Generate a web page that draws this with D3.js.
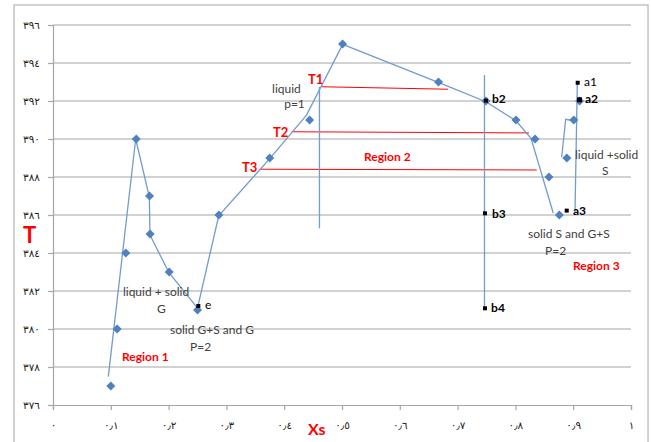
<!DOCTYPE html>
<html>
<head>
<meta charset="utf-8">
<script src="https://cdn.jsdelivr.net/npm/d3@7"></script>
<style>
  html, body { margin: 0; padding: 0; background: #fff; }
  svg { display: block; }
</style>
</head>
<body>
<svg id="chart" width="651" height="442"></svg>
<script>
// Axis ticks and their Persian labels
const yTicks = [376, 378, 380, 382, 384, 386, 388, 390, 392, 394, 396];
const yTickLabels = ["٣٧٦", "٣٧٨", "٣٨٠", "٣٨٢", "٣٨٤", "٣٨٦", "٣٨٨", "٣٩٠", "٣٩٢", "٣٩٤", "٣٩٦"];
const xTicks = [0, 0.1, 0.2, 0.3, 0.4, 0.5, 0.6, 0.7, 0.8, 0.9, 1];
const xTickLabels = ["٠", "٠٫١", "٠٫٢", "٠٫٣", "٠٫٤", "٠٫٥", "٠٫٦", "٠٫٧", "٠٫٨", "٠٫٩", "١"];

// Measured points (composition Xs, temperature T)
const pointXs = [0.100, 0.111, 0.126, 0.144, 0.167, 0.168, 0.201, 0.250, 0.287, 0.375, 0.444,
                 0.501, 0.667, 0.749, 0.801, 0.834, 0.858, 0.876, 0.889, 0.901, 0.911];
const pointT  = [377, 380, 384, 390, 387, 385, 383, 381, 386, 389, 391,
                 395, 393, 392, 391, 390, 388, 386, 389, 391, 392];

// Phase boundary curve traced through the points
const curveXs = [0.0957, 0.1431, 0.1666, 0.1678, 0.2007, 0.2500, 0.2867, 0.3754, 0.4386,
                 0.5012, 0.6666, 0.7491, 0.8010, 0.8270, 0.8656];
const curveT  = [377.49, 390.00, 386.96, 384.95, 382.96, 381.10, 385.96, 388.98, 391.26,
                 394.98, 392.98, 391.96, 390.96, 390.04, 386.09];
// Short boundary branch on the right
const branchXs = [0.8801, 0.8870, 0.9002];
const branchT  = [389.04, 391.04, 390.96];

// Vertical isopleths: [x0, T0, x1, T1]
const isoplethT1 = [0.461, 392.75, 0.461, 385.30];
const isoplethB  = [0.7465, 393.37, 0.7465, 381.09];
const isoplethA  = [0.9031, 386.10, 0.9071, 392.95];

// Tie lines at T1, T2, T3: [x0, T0, x1, T1]
const tieNames = ["T1", "T2", "T3"];
const tieLines = [
  [0.4649, 392.75, 0.6839, 392.62],
  [0.4130, 390.38, 0.8235, 390.32],
  [0.3581, 388.41, 0.8369, 388.37]
];
const tieLabelXs = [0.4412, 0.3806, 0.3270];
const tieLabelT  = [392.89, 390.11, 388.26];

// Marked state points
const markNames = ["e", "b2", "b3", "b4", "a1", "a2", "a3"];
const markXs = [0.2514, 0.7491, 0.7474, 0.7474, 0.9078, 0.9100, 0.8888];
const markT  = [381.21, 392.02, 386.09, 381.09, 392.96, 392.09, 386.23];
const markLabelXs = [0.263, 0.7595, 0.7595, 0.758, 0.9187, 0.9204, 0.8997];
const markLabelT  = [381.05, 391.89, 385.84, 380.89, 392.79, 391.89, 386.00];
const markBold = [false, true, true, true, false, true, true];

// Phase descriptions
const noteTexts = ["liquid", "p=1", "liquid + solid", "G", "solid G+S and G", "P=2",
                   "liquid +solid", "S", "solid S and G+S", "P=2"];
const noteXs = [0.379, 0.400, 0.121, 0.180, 0.2024, 0.237, 0.9031, 0.9498, 0.8218, 0.8512];
const noteT  = [392.42, 391.61, 381.73, 380.84, 379.74, 378.84, 388.94, 388.11, 384.79, 383.89];

// Region names
const regionNames = ["Region 1", "Region 2", "Region 3"];
const regionXs = [0.1194, 0.538, 0.8997];
const regionT  = [378.31, 388.84, 383.11];

const svg = d3.select("#chart");
const plotLeft = 53, plotRight = 631, plotTop = 25, plotBottom = 405;

const x = d3.scaleLinear().domain([0, 1]).range([plotLeft, plotRight]);
const y = d3.scaleLinear().domain([376, 396]).range([plotBottom, plotTop]);

const labelFont = "Lato, 'Liberation Sans', sans-serif";
const digitFont = "'DejaVu Sans', sans-serif";
const blue = "#4f81bd", lineBlue = "#729bd0", red = "#ff0000", textGray = "#404040";

// Outer frame
svg.append("rect")
  .attr("x", 14).attr("y", 5).attr("width", 634).attr("height", 445)
  .attr("fill", "none").attr("stroke", "#c4c4c4").attr("stroke-width", 1.5);

// Horizontal gridlines
svg.append("g").selectAll("line").data(yTicks.slice(1)).join("line")
  .attr("x1", plotLeft).attr("x2", plotRight)
  .attr("y1", d => y(d)).attr("y2", d => y(d))
  .attr("stroke", "#a6a6a6").attr("stroke-width", 1.2);

// Y axis
const yAxis = svg.append("g").attr("transform", `translate(${plotLeft},0)`)
  .call(d3.axisLeft(y).tickValues(yTicks).tickSize(5).tickPadding(8)
        .tickFormat((d, i) => yTickLabels[i]));
yAxis.select(".domain").attr("stroke", "#a6a6a6").attr("stroke-width", 1.2);
yAxis.selectAll(".tick line").attr("stroke", "#a6a6a6").attr("stroke-width", 1.2);
yAxis.selectAll(".tick text").attr("font-family", digitFont).attr("font-size", 10.5)
  .attr("fill", "#222");

// X axis
const xAxis = svg.append("g").attr("transform", `translate(0,${plotBottom})`)
  .call(d3.axisBottom(x).tickValues(xTicks).tickSize(5).tickPadding(12)
        .tickFormat((d, i) => xTickLabels[i]));
xAxis.select(".domain").attr("stroke", "#a6a6a6").attr("stroke-width", 1.2);
xAxis.selectAll(".tick line").attr("stroke", "#a6a6a6").attr("stroke-width", 1.2);
xAxis.selectAll(".tick text").attr("font-family", digitFont).attr("font-size", 10.5)
  .attr("fill", "#222");

// Axis titles
svg.append("text").attr("x", 23).attr("y", 243)
  .attr("font-family", labelFont).attr("font-weight", "bold").attr("font-size", 22)
  .attr("fill", red).text("T");
svg.append("text").attr("x", 308).attr("y", 435)
  .attr("font-family", labelFont).attr("font-weight", "bold").attr("font-size", 16)
  .attr("fill", red).text("Xs");

const seg = s => `M${x(s[0])},${y(s[1])}L${x(s[2])},${y(s[3])}`;

// Tie lines
svg.append("g").selectAll("path").data(tieLines).join("path")
  .attr("d", seg).attr("stroke", red).attr("stroke-width", 1).attr("fill", "none");

// Boundary curves
const line = d3.line().x(d => x(d[0])).y(d => y(d[1]));
svg.append("path").datum(d3.zip(curveXs, curveT)).attr("d", line)
  .attr("fill", "none").attr("stroke", lineBlue).attr("stroke-width", 1.3);
svg.append("path").datum(d3.zip(branchXs, branchT)).attr("d", line)
  .attr("fill", "none").attr("stroke", lineBlue).attr("stroke-width", 1.3);

// Isopleths
svg.append("g").selectAll("path").data([isoplethT1, isoplethB, isoplethA]).join("path")
  .attr("d", seg).attr("stroke", lineBlue).attr("stroke-width", 1.3).attr("fill", "none");

// Diamond markers
const diamond = d3.symbol().type(d3.symbolDiamond2).size(52);
svg.append("g").selectAll("path").data(d3.zip(pointXs, pointT)).join("path")
  .attr("d", diamond)
  .attr("transform", d => `translate(${x(d[0])},${y(d[1])})`)
  .attr("fill", blue);

// State points
svg.append("g").selectAll("rect").data(d3.range(markNames.length)).join("rect")
  .attr("x", i => x(markXs[i]) - 2).attr("y", i => y(markT[i]) - 2)
  .attr("width", i => markNames[i] === "a2" ? 5 : 4)
  .attr("height", i => markNames[i] === "a2" ? 5 : 4)
  .attr("fill", "#000");
svg.append("g").selectAll("text").data(d3.range(markNames.length)).join("text")
  .attr("x", i => x(markLabelXs[i])).attr("y", i => y(markLabelT[i]))
  .attr("font-family", labelFont).attr("font-size", 12)
  .attr("font-weight", i => markBold[i] ? "bold" : "normal")
  .attr("fill", "#000").text(i => markNames[i]);

// Tie line labels
svg.append("g").selectAll("text").data(d3.range(tieNames.length)).join("text")
  .attr("x", i => x(tieLabelXs[i])).attr("y", i => y(tieLabelT[i]))
  .attr("font-family", labelFont).attr("font-size", 13).attr("font-weight", "bold")
  .attr("fill", red).text(i => tieNames[i]);

// Phase notes
svg.append("g").selectAll("text").data(d3.range(noteTexts.length)).join("text")
  .attr("x", i => x(noteXs[i])).attr("y", i => y(noteT[i]))
  .attr("font-family", labelFont).attr("font-size", 12)
  .attr("fill", textGray).text(i => noteTexts[i]);

// Region names
svg.append("g").selectAll("text").data(d3.range(regionNames.length)).join("text")
  .attr("x", i => x(regionXs[i])).attr("y", i => y(regionT[i]))
  .attr("font-family", labelFont).attr("font-size", 12).attr("font-weight", "bold")
  .attr("fill", red).text(i => regionNames[i]);
</script>
</body>
</html>
